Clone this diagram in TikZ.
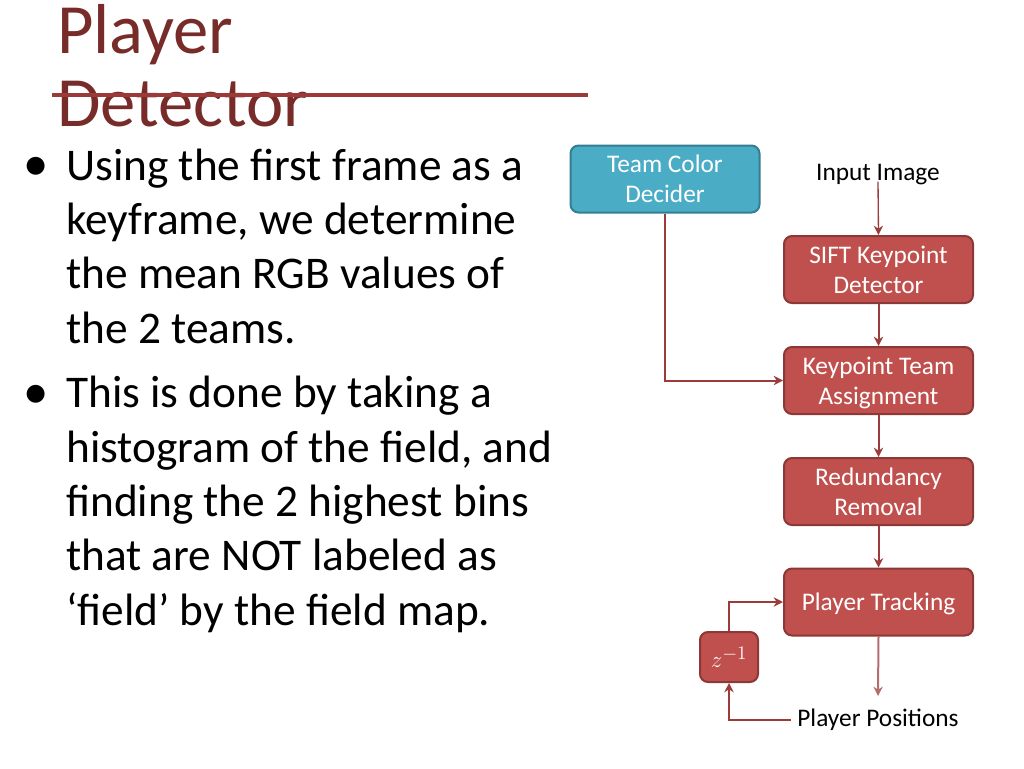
\documentclass[tikz,border=0pt]{standalone}
\usepackage{fontspec}
\setmainfont{Carlito}
\usetikzlibrary{arrows.meta}
\definecolor{titlered}{HTML}{772C2A}
\definecolor{rulered}{HTML}{9B3A38}
\definecolor{boxred}{HTML}{C0504D}
\definecolor{boxredb}{HTML}{8C3836}
\definecolor{boxblue}{HTML}{4BACC6}
\definecolor{boxblueb}{HTML}{357D91}
\definecolor{linkred}{HTML}{9B3C3A}
\tikzset{
  x=0.75pt, y=-0.75pt,
  redbox/.style={draw=boxredb, line width=1.5pt, fill=boxred, rounded corners=6pt,
    minimum width=189*0.75pt, minimum height=67*0.75pt, text=white, align=center,
    font=\fontsize{19}{22.5}\selectfont, inner sep=0pt, text depth=0pt},
  bluebox/.style={redbox, draw=boxblueb, fill=boxblue},
  zbox/.style={redbox, minimum width=58*0.75pt, minimum height=50*0.75pt},
  plain/.style={font=\fontsize{19}{22.5}\selectfont, inner sep=0pt},
  link/.style={draw=linkred, line width=1.5pt, -{Stealth[length=7pt,width=7pt]}},
  bullettext/.style={anchor=base west, align=left, inner sep=0pt,
    font=\fontsize{34}{40.7}\selectfont},
  bulletdot/.style={anchor=base west, inner sep=0pt, font=\fontsize{38}{40.5}\selectfont},
}
\begin{document}
\begin{tikzpicture}
\useasboundingbox (0,0) rectangle (1024,768);
% title (anchor base = last line)
\node[anchor=base west, inner sep=0pt, text=titlered, font=\fontsize{53}{54.75}\selectfont, align=left] (title) at (57,126) {Player\\Detector};
\draw[rulered, line width=3pt] (52,95) -- (588,95);
% bullets
\node[bulletdot] (b1) at (23,180) {•};
\node[bullettext] (t1) at (66,343) {Using the first frame as a\\keyframe, we determine\\the mean RGB values of\\the 2 teams.};
\node[bulletdot] (b2) at (23,408) {•};
\node[bullettext] (t2) at (66,625) {This is done by taking a\\histogram of the field, and\\finding the 2 highest bins\\that are NOT labeled as\\‘field’ by the field map.};
% diagram
\node[bluebox] (tcd) at (665,179) {Team Color\\Decider};
\node[plain] (in) at (878,175) {Input Image};
\node[redbox] (sift) at (878.5,269.5) {SIFT Keypoint\\Detector};
\node[redbox] (kta) at (878.5,380.5) {Keypoint Team\\Assignment};
\node[redbox] (rr) at (878.5,491.5) {Redundancy\\Removal};
\node[redbox] (pt) at (878.5,602) {Player Tracking};
\node[zbox] (z) at (729,657) {$z^{-1}$};
\node[plain] (pp) at (878,720) {Player Positions};
\coordinate (ppend) at (878,696);
\draw[link, line width=1pt] (in.south) ++(0,-4) -- (sift.north);
\draw[link] (sift) -- (kta);
\draw[link] (kta) -- (rr);
\draw[link] (rr) -- (pt);
\draw[link] (tcd.south) |- (kta.west);
\draw[link, draw=linkred!75] (pt.south) -- (ppend);
\draw[link] (pp.west) ++(-6,0) -| (z.south);
\draw[link] (z.north) |- (pt.west);
\end{tikzpicture}
\end{document}
